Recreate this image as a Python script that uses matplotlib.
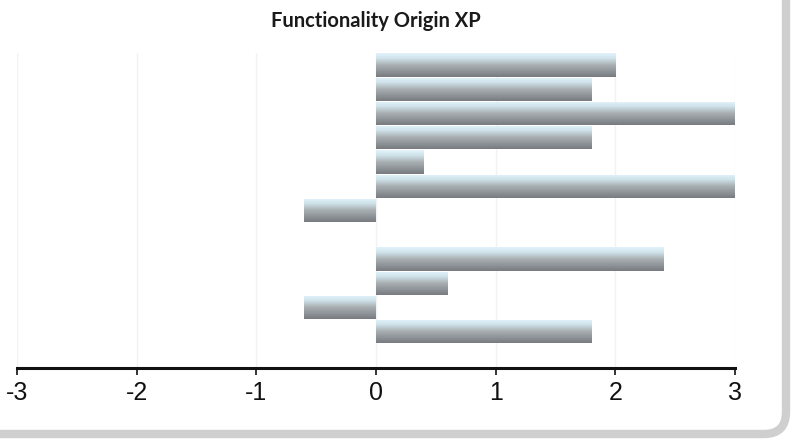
import numpy as np
import matplotlib.pyplot as plt
from matplotlib.colors import LinearSegmentedColormap
from matplotlib.patches import FancyBboxPatch

# data (top row first, one empty slot)
rows = np.arange(12)
values = [2.0, 1.8, 3.0, 1.8, 0.4, 3.0, -0.6, 0.0, 2.4, 0.6, -0.6, 1.8]
ticks = [-3, -2, -1, 0, 1, 2, 3]

W, H = 808, 443
fig = plt.figure(figsize=(W / 100, H / 100), dpi=100)
fig.patch.set_facecolor('white')

# rounded frame with grey shadow (right / bottom only visible)
frame = FancyBboxPatch((-40, 9), 40 + 786, H + 40,
                       boxstyle='round,pad=0,rounding_size=22',
                       transform=None, facecolor='white',
                       edgecolor='#cfcfcf', linewidth=6, zorder=-5)
fig.patches.append(frame)

ax = fig.add_axes([17 / W, 75 / H, (735 - 17) / W, (368 - 53) / H])
ax.set_facecolor('none')
ax.set_zorder(2)

# gradient for the bars: light cyan on top, grey below
cmap = LinearSegmentedColormap.from_list('bar', [
    (0.0, '#e2f3fb'), (0.22, '#cfe2ea'), (0.5, '#a9afb3'), (1.0, '#787c80')])
grad = np.linspace(0, 1, 64).reshape(-1, 1)

bars = ax.barh(rows, values, height=0.96, color='#a9afb3', linewidth=0, zorder=2)
for b in bars:
    if b.get_width() == 0:
        continue
    x0, y0 = b.get_x(), b.get_y()
    x1, y1 = x0 + b.get_width(), y0 + b.get_height()
    im = ax.imshow(grad, cmap=cmap, aspect='auto', zorder=3,
                   extent=(min(x0, x1), max(x0, x1), y1, y0),
                   interpolation='bilinear')
    im.set_clip_path(b)

ax.set_xlim(-3, 3)
ax.set_ylim(12.5, -0.5)
ax.set_xticks(ticks)
ax.set_xticklabels([str(t) for t in ticks],
                   family=['Liberation Sans Narrow', 'Liberation Sans'], fontsize=18)
ax.set_yticks([])
ax.grid(axis='x', color='#f2f2f2', linewidth=1, zorder=0)
ax.set_axisbelow(True)

for s in ['top', 'right', 'left']:
    ax.spines[s].set_visible(False)
ax.spines['bottom'].set_linewidth(2.2)
ax.spines['bottom'].set_color('#111111')
ax.tick_params(axis='x', direction='out', length=5, width=1.2, pad=4, colors='#111111')

fig.text(376 / W, 1 - 27 / H, 'Functionality Origin XP', ha='center', va='baseline',
         family=['Lato', 'DejaVu Sans'], fontweight='bold', fontsize=14.5, color='#1a1a1a')

fig.savefig('out.png', dpi=100)
